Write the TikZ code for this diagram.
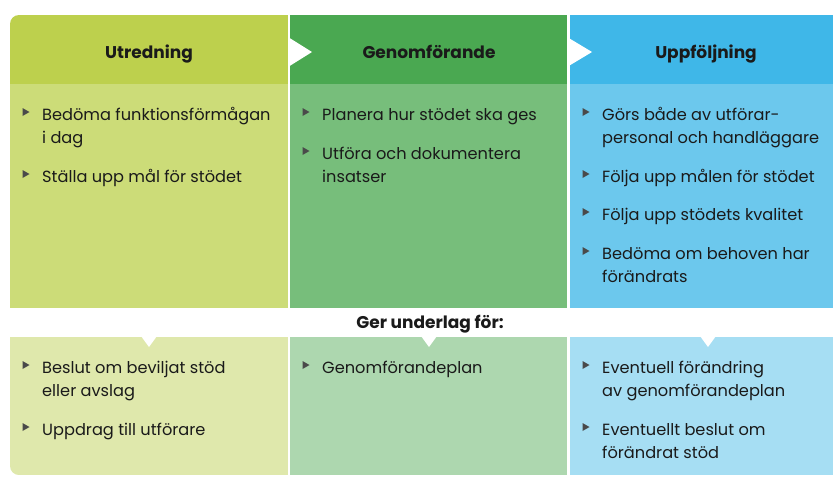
\documentclass[tikz,border=0pt]{standalone}
\usepackage{fontspec}
\setmainfont{Poppins}
\definecolor{cah}{HTML}{BDD04D}
\definecolor{cam}{HTML}{CCDC78}
\definecolor{cab}{HTML}{DFE8AC}
\definecolor{cbh}{HTML}{4AA851}
\definecolor{cbm}{HTML}{77BE7B}
\definecolor{cbb}{HTML}{ADD7AF}
\definecolor{cch}{HTML}{3FB7E8}
\definecolor{ccm}{HTML}{6CC8ED}
\definecolor{ccb}{HTML}{A6DEF3}
\definecolor{bulc}{HTML}{4A4A4A}
\definecolor{txtc}{HTML}{1A1A1A}
\newcommand\bodyfont{\fontsize{16.2}{23}\selectfont}
\newcommand\headfont{\fontsize{17}{20}\selectfont\bfseries}
\newcommand\bp[3]{%
  \node[itemtxt] (#1) at (#2) {\begin{tabular}[t]{@{}l@{}}#3\end{tabular}};
  \fill[bulc] (#1.base west) ++(-19.5,-4) -- ++(7,-4) -- ++(-7,-4) -- cycle;}
\begin{document}
\begin{tikzpicture}[x=1pt,y=-1pt,
  itemtxt/.style={anchor=base west,inner sep=0pt,text=txtc,font=\bodyfont},
  headtxt/.style={anchor=base,inner sep=0pt,text=txtc,font=\headfont},
  wtri/.style={fill=white}]
\fill[white] (0,0) rectangle (833,477);
\useasboundingbox (0,0) rectangle (833,477);
\begin{scope}
\clip[rounded corners=9pt] (10,15) rectangle (850,475);
\fill[cah] (10,15) rectangle (288,84);
\fill[cam] (10,84) rectangle (288,308);
\fill[cab] (10,337) rectangle (288,475);
\fill[cbh] (290,15) rectangle (567,84);
\fill[cbm] (290,84) rectangle (567,308);
\fill[cbb] (290,337) rectangle (567,475);
\fill[cch] (569.5,15) rectangle (850,84);
\fill[ccm] (569.5,84) rectangle (850,308);
\fill[ccb] (569.5,337) rectangle (850,475);
\end{scope}
% arrows in header
\fill[wtri] (288,37) -- (312,52) -- (288,67) -- cycle;
\fill[wtri] (567,37) -- (592,52) -- (567,67) -- cycle;
% down triangles
\fill[wtri] (141,336) -- (157,336) -- (149,347) -- cycle;
\fill[wtri] (421,336) -- (437,336) -- (429,347) -- cycle;
\fill[wtri] (700,336) -- (716,336) -- (708,347) -- cycle;
% headers
\node[headtxt] (h1) at (149,58) {Utredning};
\node[headtxt] (h2) at (429,58) {Genomförande};
\node[headtxt] (h3) at (706,58) {Uppföljning};
\node[headtxt] (ger) at (430,328) {Ger underlag för:};
% column 1
\bp{a1}{42,120}{Bedöma funktionsförmågan\\i dag}
\bp{a2}{42,182}{Ställa upp mål för stödet}
\bp{a3}{42,373}{Beslut om beviljat stöd\\eller avslag}
\bp{a4}{42,435}{Uppdrag till utförare}
% column 2
\bp{b1}{322,120}{Planera hur stödet ska ges}
\bp{b2}{322,159}{Utföra och dokumentera\\insatser}
\bp{b3}{322,373}{Genomförandeplan}
% column 3
\bp{c1}{602,120}{Görs både av utförar-\\personal och handläggare}
\bp{c2}{602,182}{Följa upp målen för stödet}
\bp{c3}{602,220}{Följa upp stödets kvalitet}
\bp{c4}{602,259}{Bedöma om behoven har\\förändrats}
\bp{c5}{602,373}{Eventuell förändring\\av genomförandeplan}
\bp{c6}{602,435}{Eventuellt beslut om\\förändrat stöd}
\end{tikzpicture}
\end{document}
